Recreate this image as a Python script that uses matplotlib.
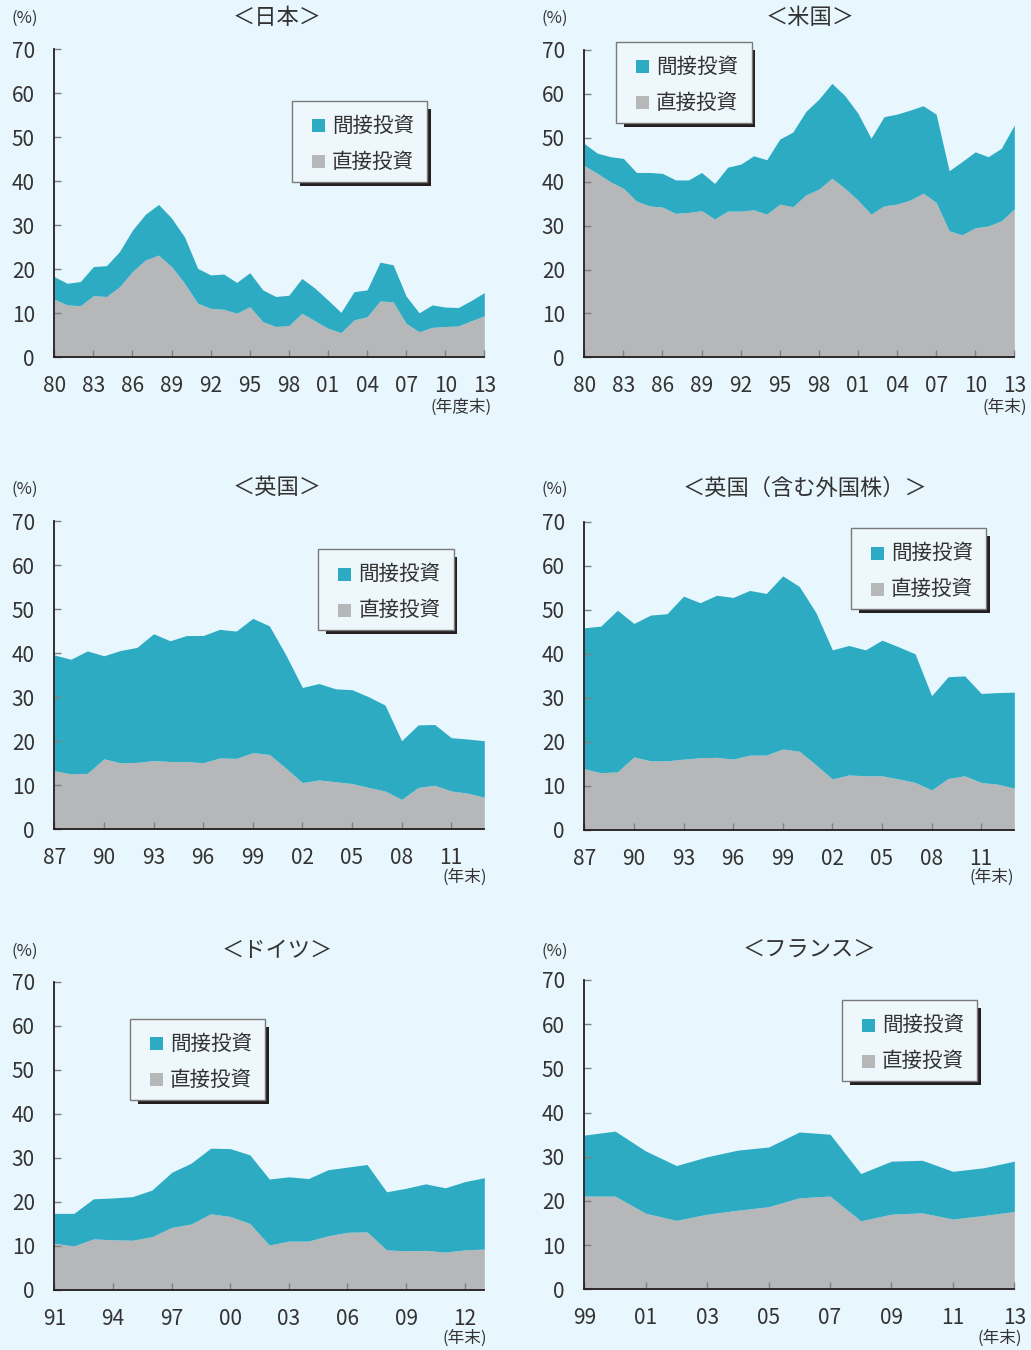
import numpy as np
import matplotlib
matplotlib.use("Agg")
from matplotlib import pyplot as plt
from matplotlib.patches import Rectangle

plt.rcParams['font.family'] = ['Noto Sans CJK JP', 'DejaVu Sans']

W, H = 1031, 1350
BG = '#E8F6FD'
TEAL = '#2DABC3'
GRAY = '#B6B7B9'
TXT = '#333333'

# 日本 (年度末)
jp_years = list(range(1980, 2014))
jp_total = [18.3, 16.8, 17.2, 20.6, 20.8, 24.0, 28.9, 32.5, 34.7, 31.6, 27.3, 20.2,
            18.7, 18.9, 17.0, 19.2, 15.3, 13.8, 14.1, 17.9, 15.7, 13.0, 10.2, 14.9,
            15.3, 21.6, 21.0, 13.9, 10.1, 11.9, 11.4, 11.3, 12.9, 14.7]
jp_direct = [13.2, 11.9, 11.7, 14.0, 13.8, 16.0, 19.5, 22.1, 23.2, 20.6, 16.8, 12.3,
             11.1, 10.9, 10.0, 11.5, 8.1, 7.0, 7.2, 10.0, 8.3, 6.6, 5.6, 8.5,
             9.2, 12.8, 12.6, 7.7, 5.8, 6.8, 7.0, 7.1, 8.3, 9.4]

# 米国
us_years = list(range(1980, 2014))
us_total = [48.7, 46.5, 45.7, 45.3, 42.1, 42.1, 41.9, 40.4, 40.4, 42.1, 39.6, 43.3,
            44.0, 45.9, 45.0, 49.7, 51.3, 56.0, 58.8, 62.4, 59.6, 55.6, 49.9, 54.8,
            55.4, 56.3, 57.3, 55.4, 42.5, 44.6, 46.8, 45.7, 47.6, 52.9]
us_direct = [43.7, 41.9, 40.0, 38.5, 35.6, 34.5, 34.2, 32.8, 33.0, 33.4, 31.5, 33.3,
             33.3, 33.6, 32.6, 34.9, 34.3, 37.0, 38.3, 40.8, 38.5, 35.8, 32.6, 34.5,
             34.9, 35.8, 37.4, 35.3, 28.8, 27.9, 29.5, 29.9, 31.1, 33.8]

# 英国
uk_years = list(range(1987, 2014))
uk_total = [39.6, 38.6, 40.5, 39.4, 40.6, 41.3, 44.4, 42.8, 44.0, 44.0, 45.4, 45.0,
            47.9, 46.2, 39.6, 32.2, 33.1, 31.9, 31.7, 30.1, 28.2, 20.1, 23.7, 23.8,
            20.8, 20.5, 20.1]
uk_direct = [13.3, 12.6, 12.7, 16.0, 15.1, 15.2, 15.6, 15.4, 15.4, 15.1, 16.2, 16.1,
             17.4, 17.0, 13.9, 10.6, 11.2, 10.8, 10.4, 9.5, 8.7, 6.8, 9.5, 10.0,
             8.7, 8.2, 7.3]

# 英国（含む外国株）
ukf_years = list(range(1987, 2014))
ukf_total = [45.9, 46.3, 49.9, 46.9, 48.8, 49.1, 53.1, 51.6, 53.3, 52.8, 54.4, 53.7,
             57.7, 55.3, 49.4, 40.9, 41.9, 40.9, 43.1, 41.6, 40.0, 30.5, 34.8, 35.0,
             31.0, 31.2, 31.3]
ukf_direct = [13.9, 13.0, 13.2, 16.6, 15.7, 15.7, 16.1, 16.4, 16.5, 16.1, 17.0, 17.0,
              18.4, 17.9, 14.8, 11.6, 12.5, 12.3, 12.3, 11.6, 10.8, 9.1, 11.7, 12.3,
              10.8, 10.4, 9.5]

# ドイツ
de_years = list(range(1991, 2014))
de_total = [17.4, 17.4, 20.7, 20.9, 21.2, 22.7, 26.7, 28.8, 32.2, 32.1, 30.7, 25.2,
            25.7, 25.3, 27.3, 27.9, 28.5, 22.3, 23.1, 24.1, 23.2, 24.6, 25.5]
de_direct = [10.6, 10.0, 11.6, 11.4, 11.3, 12.1, 14.2, 15.0, 17.3, 16.7, 15.1, 10.2,
             11.1, 11.1, 12.3, 13.1, 13.2, 9.1, 8.9, 9.0, 8.6, 9.1, 9.3]

# フランス
fr_years = list(range(1999, 2014))
fr_total = [34.9, 35.8, 31.3, 28.0, 30.0, 31.5, 32.2, 35.6, 35.1, 26.2, 29.0, 29.2,
            26.7, 27.5, 29.0]
fr_direct = [21.1, 21.1, 17.2, 15.6, 17.0, 17.9, 18.7, 20.7, 21.1, 15.5, 17.0, 17.3,
             15.9, 16.7, 17.6]

fig = plt.figure(figsize=(W / 100, H / 100), dpi=100, facecolor=BG)


def fx(x):
    return x / W


def fy(y):
    return 1 - y / H


def panel(box, years, total, direct, ticks, title, title_xy, unit_xy, note, note_xy, leg_xy):
    left, right, top, bottom = box
    ax = fig.add_axes([fx(left), fy(bottom), fx(right - left), (bottom - top) / H])
    ax.set_facecolor('none')
    ax.fill_between(years, 0, direct, color=GRAY, lw=0)
    ax.fill_between(years, direct, total, color=TEAL, lw=0)
    ax.set_xlim(years[0], years[-1])
    ax.set_ylim(0, 70)
    ax.set_yticks(range(0, 71, 10))
    ax.set_xticks(ticks)
    ax.set_xticklabels(['%02d' % (t % 100) for t in ticks])
    for s in ['top', 'right']:
        ax.spines[s].set_visible(False)
    for s in ['left', 'bottom']:
        ax.spines[s].set_color('#231F20')
        ax.spines[s].set_linewidth(1.3)
        ax.spines[s].set_zorder(5)
    ax.tick_params(axis='both', direction='in', length=5, width=1, color='#808080',
                   labelsize=15, labelcolor=TXT)
    ax.tick_params(axis='y', pad=14)
    ax.tick_params(axis='x', pad=13)

    fig.text(fx(title_xy[0]), fy(title_xy[1]), title, ha='center', va='center',
             fontsize=16, color=TXT)
    fig.text(fx(unit_xy[0]), fy(unit_xy[1]), '(%)', ha='center', va='center',
             fontsize=12, color=TXT)
    fig.text(fx(note_xy[0]), fy(note_xy[1]), note, ha='right', va='center',
             fontsize=12, color=TXT)

    # legend box with a dark drop edge
    lx, ly = leg_xy
    bw, bh = 135.6, 81
    fig.patches.append(Rectangle((fx(lx + 8), fy(ly + bh + 4)), fx(bw - 4.5), 4.5 / H,
                                 transform=fig.transFigure, color='#231F20', lw=0, zorder=3))
    fig.patches.append(Rectangle((fx(lx + bw - 0.5), fy(ly + bh + 4)), fx(4), (bh - 4) / H,
                                 transform=fig.transFigure, color='#231F20', lw=0, zorder=3))
    fig.patches.append(Rectangle((fx(lx), fy(ly + bh)), fx(bw), bh / H,
                                 transform=fig.transFigure, facecolor='#EEF8FC',
                                 edgecolor='#7A7A7A', lw=1, zorder=4))
    for dy, c, lab in [(25, TEAL, '間接投資'), (61, GRAY, '直接投資')]:
        fig.patches.append(Rectangle((fx(lx + 20), fy(ly + dy + 6.5)), fx(13), 13 / H,
                                     transform=fig.transFigure, color=c, lw=0, zorder=5))
        fig.text(fx(lx + 40), fy(ly + dy), lab, ha='left', va='center',
                 fontsize=14.8, color=TXT, zorder=6)
    return ax


panel((54.3, 484.3, 49, 357.3), jp_years, jp_total, jp_direct, list(range(1980, 2014, 3)),
      '＜日本＞', (277, 17), (25, 18), '(年度末)', (492, 407), (291.7, 100.7))
panel((584.3, 1014.3, 50, 357.3), us_years, us_total, us_direct, list(range(1980, 2014, 3)),
      '＜米国＞', (810, 17), (555, 18), '(年末)', (1027, 407), (616, 41.7))
panel((54.3, 484.3, 521, 829.3), uk_years, uk_total, uk_direct, list(range(1987, 2014, 3)),
      '＜英国＞', (277, 488), (25, 489), '(年末)', (487, 877), (318.3, 549.3))
panel((584.3, 1014.3, 521.7, 830), ukf_years, ukf_total, ukf_direct, list(range(1987, 2014, 3)),
      '＜英国（含む外国株）＞', (805, 488), (555, 489), '(年末)', (1014, 877), (850.7, 528.3))
panel((54.3, 484.3, 981.7, 1290), de_years, de_total, de_direct, list(range(1991, 2014, 3)),
      '＜ドイツ＞', (277, 950), (25, 951), '(年末)', (487, 1338), (129.7, 1018.7))
panel((584.3, 1014.3, 980, 1289.3), fr_years, fr_total, fr_direct, list(range(1999, 2014, 2)),
      '＜フランス＞', (809, 950), (555, 951), '(年末)', (1022, 1338), (841.7, 1000.3))

fig.savefig('out.png', dpi=100, facecolor=BG)
